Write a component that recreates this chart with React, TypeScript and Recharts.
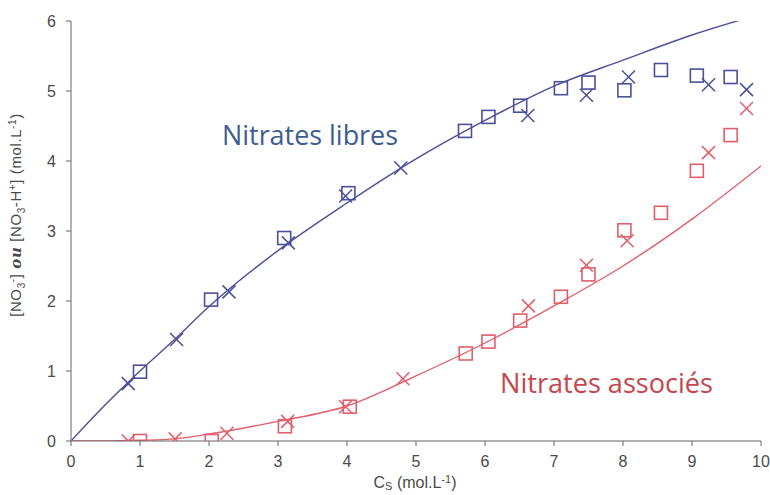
import React from "react";
import { ComposedChart, Line, Scatter, XAxis, YAxis } from "recharts";

const xTicks = [0, 1, 2, 3, 4, 5, 6, 7, 8, 9, 10];
const yTicks = [0, 1, 2, 3, 4, 5, 6];

// fitted curves
const libresCurveX = [0, 0.5, 1, 1.5, 2, 3, 4, 5, 6, 7, 8, 9, 10];
const libresCurveY = [0, 0.52, 1.0, 1.45, 1.92, 2.72, 3.4, 4.03, 4.58, 5.07, 5.44, 5.8, 6.1];
const associesCurveX = [0, 0.5, 1, 1.5, 2, 3, 4, 5, 6, 7, 8, 9, 10];
const associesCurveY = [0, 0, 0.01, 0.03, 0.1, 0.28, 0.5, 0.93, 1.4, 1.93, 2.5, 3.17, 3.93];

// measurements: squares
const libresSqX = [1.0, 2.03, 3.09, 4.02, 5.71, 6.05, 6.51, 7.1, 7.5, 8.02, 8.55, 9.07, 9.56];
const libresSqY = [0.99, 2.02, 2.9, 3.54, 4.43, 4.63, 4.79, 5.04, 5.12, 5.01, 5.3, 5.22, 5.2];
const associesSqX = [1.0, 2.04, 3.1, 4.04, 5.72, 6.05, 6.51, 7.1, 7.5, 8.02, 8.55, 9.07, 9.56];
const associesSqY = [0, 0, 0.21, 0.49, 1.25, 1.42, 1.72, 2.06, 2.38, 3.01, 3.26, 3.86, 4.37];

// measurements: crosses
const libresXsX = [0.83, 1.53, 2.29, 3.15, 3.98, 4.78, 6.62, 7.47, 8.08, 9.24, 9.79];
const libresXsY = [0.82, 1.45, 2.13, 2.83, 3.5, 3.9, 4.65, 4.94, 5.2, 5.09, 5.02];
const associesXsX = [0.83, 1.51, 2.26, 3.14, 3.98, 4.81, 6.63, 7.47, 8.06, 9.24, 9.79];
const associesXsY = [0, 0.03, 0.11, 0.28, 0.49, 0.89, 1.93, 2.51, 2.86, 4.12, 4.75];

const BLUE = "#4c509b";
const RED = "#e05f6b";

const zip = (xs: number[], ys: number[]) => xs.map((x, i) => ({ x, y: ys[i] }));

const Square = (color: string) => (props: any) => {
    const { cx, cy } = props;
    return <rect x={cx - 6.5} y={cy - 6.5} width={13} height={13} fill="none" stroke={color} strokeWidth={1.6} />;
};

const Cross = (color: string) => (props: any) => {
    const { cx, cy } = props;
    const r = 6.5;
    return (
        <g stroke={color} strokeWidth={1.5}>
            <line x1={cx - r} y1={cy - r} x2={cx + r} y2={cy + r} />
            <line x1={cx - r} y1={cy + r} x2={cx + r} y2={cy - r} />
        </g>
    );
};

const tickStyle = { fontFamily: "Liberation Sans, Arial, sans-serif", fontSize: 16, fill: "#4a4a4a" };

export default function App() {
    return (
        <div style={{ position: "absolute", left: 0, top: 0, width: 770, height: 495, background: "#fff" }}>
            <ComposedChart width={770} height={495} margin={{ top: 21, right: 9, bottom: 0, left: 0 }}>
                <XAxis
                    type="number"
                    dataKey="x"
                    domain={[0, 10]}
                    ticks={xTicks}
                    height={54}
                    tickSize={5}
                    tickMargin={10}
                    stroke="#666"
                    tick={tickStyle}
                    allowDataOverflow
                />
                <YAxis
                    type="number"
                    dataKey="y"
                    domain={[0, 6]}
                    ticks={yTicks}
                    width={71}
                    tickSize={5}
                    tickMargin={10}
                    stroke="#666"
                    tick={tickStyle}
                    allowDataOverflow
                />
                <Line data={zip(libresCurveX, libresCurveY)} dataKey="y" type="monotone" stroke={BLUE} strokeWidth={1.4} dot={false} isAnimationActive={false} />
                <Line data={zip(associesCurveX, associesCurveY)} dataKey="y" type="monotone" stroke={RED} strokeWidth={1.4} dot={false} isAnimationActive={false} />
                <Scatter data={zip(libresSqX, libresSqY)} dataKey="y" shape={Square(BLUE)} isAnimationActive={false} />
                <Scatter data={zip(associesSqX, associesSqY)} dataKey="y" shape={Square(RED)} isAnimationActive={false} />
                <Scatter data={zip(libresXsX, libresXsY)} dataKey="y" shape={Cross(BLUE)} isAnimationActive={false} />
                <Scatter data={zip(associesXsX, associesXsY)} dataKey="y" shape={Cross(RED)} isAnimationActive={false} />
            </ComposedChart>
            <svg width={770} height={495} style={{ position: "absolute", left: 0, top: 0, pointerEvents: "none" }}>
                <text x={222} y={145} fontFamily="Open Sans, sans-serif" fontSize={28} fill="#3d5d92" textLength={176} lengthAdjust="spacingAndGlyphs">
                    Nitrates libres
                </text>
                <text x={500} y={393} fontFamily="Open Sans, sans-serif" fontSize={28} fill="#c4474d" textLength={213} lengthAdjust="spacingAndGlyphs">
                    Nitrates associés
                </text>
                <text
                    transform="translate(21,215) rotate(-90)"
                    textAnchor="middle"
                    fontFamily="Liberation Sans, Arial, sans-serif"
                    fontSize={15}
                    letterSpacing={0.6}
                    fill="#4a4a4a"
                >
                    [NO<tspan dy={4} fontSize={10}>3</tspan>
                    <tspan dy={-9} fontSize={10}>-</tspan>
                    <tspan dy={5}>] </tspan>
                    <tspan fontWeight="bold" fontStyle="italic" fontFamily="DejaVu Serif, serif">ou</tspan>
                    <tspan> [NO</tspan>
                    <tspan dy={4} fontSize={10}>3</tspan>
                    <tspan dy={-4}>-H</tspan>
                    <tspan dy={-5} fontSize={10}>+</tspan>
                    <tspan dy={5}>] (mol.L</tspan>
                    <tspan dy={-5} fontSize={10}>-1</tspan>
                    <tspan dy={5}>)</tspan>
                </text>
                <text x={415} y={488} textAnchor="middle" fontFamily="Liberation Sans, Arial, sans-serif" fontSize={16} fill="#4a4a4a">
                    C<tspan dy={2} fontSize={11}>S</tspan>
                    <tspan dy={-2}> (mol.L</tspan>
                    <tspan dy={-5} fontSize={11}>-1</tspan>
                    <tspan dy={5}>)</tspan>
                </text>
            </svg>
        </div>
    );
}
